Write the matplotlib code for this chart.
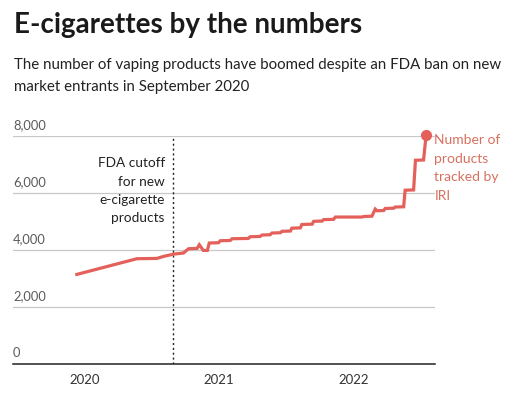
import matplotlib
matplotlib.use("Agg")
import matplotlib.pyplot as plt
import pandas as pd

dates = ["2019-12-12", "2020-05-23", "2020-07-16", "2020-08-03", "2020-08-30",
         "2020-09-26", "2020-10-10", "2020-11-02", "2020-11-08", "2020-11-19",
         "2020-11-30", "2020-12-05", "2020-12-30", "2021-01-04", "2021-01-31",
         "2021-02-05", "2021-03-21", "2021-03-26", "2021-04-22", "2021-04-27",
         "2021-05-19", "2021-05-24", "2021-06-16", "2021-06-20", "2021-07-13",
         "2021-07-17", "2021-08-09", "2021-08-13", "2021-09-10", "2021-09-14",
         "2021-10-07", "2021-10-11", "2021-11-07", "2021-11-12", "2022-01-23",
         "2022-01-28", "2022-02-19", "2022-02-28", "2022-03-05", "2022-03-23",
         "2022-03-27", "2022-04-19", "2022-04-23", "2022-05-16", "2022-05-20",
         "2022-06-12", "2022-06-17", "2022-07-09", "2022-07-16"]
products = [3150, 3700, 3710, 3780, 3860,
            3900, 4050, 4060, 4190, 3990,
            3990, 4250, 4260, 4330, 4340,
            4400, 4410, 4470, 4480, 4530,
            4540, 4600, 4610, 4660, 4670,
            4770, 4780, 4900, 4910, 5010,
            5020, 5070, 5080, 5160, 5160,
            5180, 5190, 5440, 5380, 5390,
            5460, 5470, 5510, 5520, 6100,
            6110, 7150, 7160, 8050]
y_ticks = [0, 2000, 4000, 6000, 8000]
y_tick_labels = ["0", "2,000", "4,000", "6,000", "8,000"]
x_ticks = ["2020-01-01", "2021-01-01", "2022-01-01"]
x_tick_labels = ["2020", "2021", "2022"]
cutoff_date = "2020-08-29"
cutoff_label = "FDA cutoff\nfor new\ne-cigarette\nproducts"
series_label = "Number of\nproducts\ntracked by\nIRI"
title = "E-cigarettes by the numbers"
subtitle_lines = ["The number of vaping products have boomed despite an FDA ban on new",
                  "market entrants in September 2020"]

RED = "#e4605a"
RED_TEXT = "#d8705f"
W, H = 512, 398

fig = plt.figure(figsize=(W / 100, H / 100), dpi=100)
fig.patch.set_facecolor("white")
ax = fig.add_axes([13 / W, 1 - 364.3 / H, (435 - 13) / W, (364.3 - 136) / H])

x = pd.to_datetime(dates)
ax.plot(x, products, color=RED, lw=2.3, solid_joinstyle="miter", clip_on=False, zorder=3)
ax.plot(x[-1:], products[-1:], "o", color=RED, ms=7, clip_on=False, zorder=4)

ax.set_xlim(pd.Timestamp("2019-06-22"), pd.Timestamp("2022-08-09"))
ax.set_ylim(0, 8000)
ax.set_yticks(y_ticks)
ax.set_yticklabels([])
ax.tick_params(axis="y", length=0)
ax.grid(axis="y", color="#c8c8c8", lw=0.9)
ax.set_axisbelow(True)
for s in ["top", "right", "left"]:
    ax.spines[s].set_visible(False)
ax.spines["bottom"].set_color("#222222")
ax.spines["bottom"].set_linewidth(1.1)

ax.set_xticks(pd.to_datetime(x_ticks))
ax.set_xticklabels(x_tick_labels, fontsize=9.5, color="#333333", family="Lato")
ax.tick_params(axis="x", length=0, pad=7)

ytr = ax.get_yaxis_transform()
for v, lab in zip(y_ticks, y_tick_labels):
    ax.text(0.0, v + 180, lab, transform=ytr, ha="left", va="bottom",
            fontsize=9.3, color="#5a5a5a", family="Lato")

cut = pd.Timestamp(cutoff_date)
ax.axvline(cut, color="#222222", lw=1, ls=(0, (1.5, 2)), zorder=2)
ax.annotate(cutoff_label, xy=(cut, 7250), xytext=(-6, 0), textcoords="offset points",
            ha="right", va="top", fontsize=9.8, color="#222222", family="Lato",
            linespacing=1.62)

ax.annotate(series_label, xy=(x[-1], products[-1]), xytext=(6, 0.5),
            textcoords="offset points", ha="left", va="top",
            fontsize=10, color=RED_TEXT, family="Lato", linespacing=1.68,
            annotation_clip=False)

fig.text(14 / W, 1 - 33 / H, title, fontsize=20, fontweight="bold",
         color="#1a1a1a", family="Lato", ha="left", va="baseline")
for i, line in enumerate(subtitle_lines):
    fig.text(14 / W, 1 - (68.5 + 23 * i) / H, line, fontsize=10.8,
             color="#222222", family="Lato", ha="left", va="baseline")

fig.savefig("out.png", dpi=100, facecolor="white")
